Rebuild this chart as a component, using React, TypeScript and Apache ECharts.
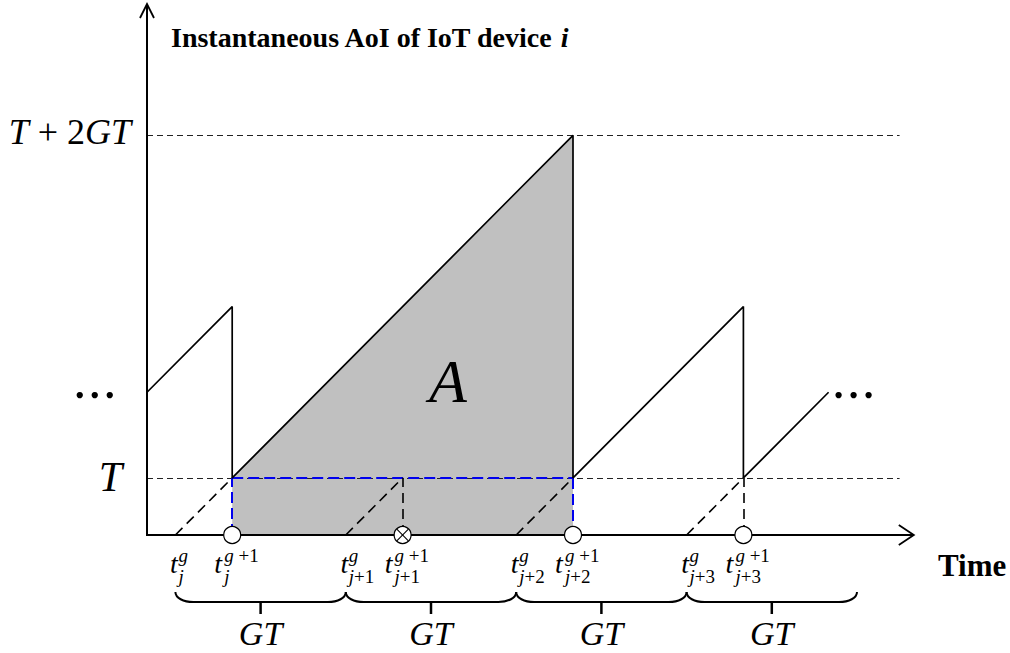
import React, { useEffect, useRef } from "react";
import * as echarts from "echarts";

// ---- data (time axis and AoI in units of T; G = 3) ----
const xAxisEnd = 13.5;
const yAxisEnd = 9.3;
const refLineEnd = 13.25;
const levelValues = [1, 7]; // T, T + 2GT
const aoiCurve = [
  [0, 2.5], [1.5, 4], [1.5, 1], [7.5, 7], [7.5, 1], [10.5, 4], [10.5, 1], [12, 2.5],
];
const areaTop = [[1.5, 1], [7.5, 7]]; // area A (down to 0)
const gTimes = [0.5, 3.5, 6.5, 9.5]; // t_j^g
const g1Times = [1.5, 4.5, 7.5, 10.5]; // t_j^{g+1}
const subLabels = ["j", "j+1", "j+2", "j+3"];
const dashedRises = [
  [[0.5, 0], [1.5, 1]],
  [[3.5, 0], [4.5, 1]],
  [[6.5, 0], [7.5, 1]],
  [[9.5, 0], [10.5, 1]],
];
const blueDashed = [
  [[1.5, 0], [1.5, 1]],
  [[1.5, 1], [7.5, 1]],
  [[7.5, 1], [7.5, 0]],
];
const blackDropDashed = [
  [[4.5, 0], [4.5, 1]],
  [[10.5, 0], [10.5, 1]],
];
const successMarks = [[1.5, 0], [7.5, 0], [10.5, 0]];
const failedMarks = [[4.5, 0]];
const braces = [[0.5, 3.5], [3.5, 6.5], [6.5, 9.5], [9.5, 12.5]];
const braceLabel = "GT";
const dotsCenters = [[-0.92, 2.45], [12.44, 2.45]];
const areaLabelPos = [[5.3, 2.7]];
const areaLabel = "A";

const FONT = "'Liberation Serif', 'Times New Roman', Times, serif";

function subRich(s: string) {
  const parts = s.split("+");
  return `{i|${parts[0]}}` + (parts.length > 1 ? `{r|+${parts.slice(1).join("+")}}` : "");
}

export default function App() {
  const ref = useRef<HTMLDivElement>(null);
  useEffect(() => {
    const chart = echarts.init(ref.current!, null, { renderer: "svg" });
    const richSmall = {
      i: { fontFamily: FONT, fontStyle: "italic", fontSize: 19, fill: "#000", lineHeight: 16 },
      r: { fontFamily: FONT, fontSize: 19, fill: "#000", lineHeight: 16 },
    };
    const tickLabel = (isG1: boolean) => (params: any, api: any) => {
      const p = api.coord([api.value(0), 0]);
      const sub = subLabels[params.dataIndex];
      const tX = isG1 ? p[0] - 14 : p[0] - 1.5;
      const supX = isG1 ? p[0] - 8 : p[0] + 3;
      const subX = isG1 ? p[0] - 8 : p[0] + 3;
      return {
        type: "group",
        children: [
          {
            type: "text", x: tX, y: p[1] + 28,
            style: { text: "t", font: `italic 28px ${FONT}`, fill: "#000", align: "center", verticalAlign: "middle", lineHeight: 22 },
          },
          {
            type: "text", x: supX, y: p[1] + 20,
            style: { text: isG1 ? "{i|g}{r| +1}" : "{i|g}", rich: richSmall, align: "left", verticalAlign: "middle" },
          },
          {
            type: "text", x: subX, y: p[1] + 41,
            style: { text: subRich(sub), rich: richSmall, align: "left", verticalAlign: "middle" },
          },
        ],
      };
    };

    const option: any = {
      animation: false,
      backgroundColor: "#fff",
      grid: { left: 147, top: 4, width: 766.8, height: 531, containLabel: false },
      xAxis: { type: "value", min: 0, max: xAxisEnd, show: false },
      yAxis: { type: "value", min: 0, max: yAxisEnd, show: false },
      graphic: [
        {
          type: "text", x: 171, y: 37.5,
          style: {
            text: "{b|Instantaneous AoI of IoT device }{bi|i}",
            rich: {
              b: { fontFamily: FONT, fontWeight: "bold", fontSize: 28, fill: "#000" },
              bi: { fontFamily: FONT, fontWeight: "bold", fontStyle: "italic", fontSize: 28, fill: "#000" },
            },
            align: "left", verticalAlign: "middle",
          },
        },
        {
          type: "text", x: 938, y: 565,
          style: { text: "Time", font: `bold 31px ${FONT}`, fill: "#000", align: "left", verticalAlign: "middle" },
        },
      ],
      series: [
        {
          type: "line", data: areaTop, symbol: "none", z: 1, silent: true,
          lineStyle: { opacity: 0, width: 0 },
          areaStyle: { color: "#c0c0c0", opacity: 1 },
        },
        {
          type: "lines", coordinateSystem: "cartesian2d", z: 2, silent: true,
          data: levelValues.map((v) => ({ coords: [[0, v], [refLineEnd, v]] })),
          lineStyle: { color: "#222", width: 1, type: [6, 4], opacity: 1 },
        },
        {
          type: "lines", coordinateSystem: "cartesian2d", z: 3, silent: true,
          data: blueDashed.map((c) => ({ coords: c })),
          lineStyle: { color: "#0000ee", width: 2, type: [11, 5], opacity: 1 },
        },
        {
          type: "lines", coordinateSystem: "cartesian2d", z: 3, silent: true,
          data: dashedRises.concat(blackDropDashed).map((c) => ({ coords: c })),
          lineStyle: { color: "#000", width: 1.6, type: [10, 6], opacity: 1 },
        },
        {
          type: "line", data: aoiCurve, symbol: "none", z: 4, silent: true,
          lineStyle: { color: "#000", width: 1.7 },
        },
        // axes with open arrowheads
        {
          type: "custom", z: 5, silent: true, data: [[0, 0]],
          renderItem: (params: any, api: any) => {
            const o = api.coord([0, 0]);
            const xe = api.coord([xAxisEnd, 0]);
            const ye = api.coord([0, yAxisEnd]);
            const st = { stroke: "#000", lineWidth: 2.2, fill: "none" };
            return {
              type: "group",
              children: [
                { type: "line", shape: { x1: o[0], y1: o[1], x2: xe[0], y2: xe[1] }, style: st },
                { type: "line", shape: { x1: o[0], y1: o[1] + 1, x2: ye[0], y2: ye[1] }, style: { ...st, lineWidth: 2 } },
                { type: "polyline", shape: { points: [[xe[0] - 15, xe[1] - 10], [xe[0], xe[1]], [xe[0] - 15, xe[1] + 10]] }, style: { ...st, lineWidth: 1.8 } },
                { type: "polyline", shape: { points: [[ye[0] - 7, ye[1] + 14], [ye[0], ye[1]], [ye[0] + 7, ye[1] + 14]] }, style: { ...st, lineWidth: 1.8 } },
              ],
            };
          },
        },
        {
          type: "scatter", data: successMarks, z: 6, silent: true, symbol: "circle", symbolSize: 17,
          itemStyle: { color: "#fff", borderColor: "#000", borderWidth: 1.2, opacity: 1 },
        },
        {
          type: "custom", z: 6, silent: true, data: failedMarks,
          renderItem: (params: any, api: any) => {
            const p = api.coord([api.value(0), api.value(1)]);
            const r = 8.5;
            const d = r * 0.68;
            const st = { stroke: "#000", lineWidth: 1.1 };
            return {
              type: "group",
              children: [
                { type: "circle", shape: { cx: p[0], cy: p[1], r }, style: { fill: "#fff", stroke: "#000", lineWidth: 1.2 } },
                { type: "line", shape: { x1: p[0] - d, y1: p[1] - d, x2: p[0] + d, y2: p[1] + d }, style: st },
                { type: "line", shape: { x1: p[0] - d, y1: p[1] + d, x2: p[0] + d, y2: p[1] - d }, style: st },
              ],
            };
          },
        },
        { type: "custom", z: 7, silent: true, data: gTimes.map((x) => [x, 0]), renderItem: tickLabel(false) },
        { type: "custom", z: 7, silent: true, data: g1Times.map((x) => [x, 0]), renderItem: tickLabel(true) },
        // braces with GT labels
        {
          type: "custom", z: 7, silent: true, data: braces,
          renderItem: (params: any, api: any) => {
            const a = api.coord([api.value(0), 0]);
            const b = api.coord([api.value(1), 0]);
            const yTop = a[1] + 57;
            const yLine = a[1] + 67;
            const x0 = a[0];
            const x1 = b[0];
            const xc = (x0 + x1) / 2;
            const pathData =
              `M ${x0} ${yTop} C ${x0} ${yTop + 6} ${x0 + 8} ${yLine} ${x0 + 18} ${yLine} ` +
              `L ${x1 - 18} ${yLine} C ${x1 - 8} ${yLine} ${x1} ${yTop + 6} ${x1} ${yTop}`;
            return {
              type: "group",
              children: [
                { type: "path", shape: { pathData }, style: { stroke: "#000", lineWidth: 2, fill: "none" } },
                { type: "line", shape: { x1: xc, y1: yLine, x2: xc, y2: yLine + 12 }, style: { stroke: "#000", lineWidth: 2.5 } },
                {
                  type: "text", x: xc, y: a[1] + 98,
                  style: { text: braceLabel, font: `italic 34px ${FONT}`, fill: "#000", align: "center", verticalAlign: "middle", lineHeight: 26 },
                },
              ],
            };
          },
        },
        // level labels on the y axis
        {
          type: "custom", z: 7, silent: true, data: levelValues.map((v) => [0, v]),
          renderItem: (params: any, api: any) => {
            const p = api.coord([0, api.value(1)]);
            if (params.dataIndex === 0) {
              return {
                type: "text", x: p[0] - 25, y: p[1] - 1,
                style: { text: "T", font: `italic 42px ${FONT}`, fill: "#000", align: "right", verticalAlign: "middle" },
              };
            }
            return {
              type: "text", x: p[0] - 16, y: p[1] - 3,
              style: {
                text: "{i|T}{r| + 2}{i|GT}",
                rich: {
                  i: { fontFamily: FONT, fontStyle: "italic", fontSize: 36, fill: "#000" },
                  r: { fontFamily: FONT, fontSize: 36, fill: "#000" },
                },
                align: "right", verticalAlign: "middle",
              },
            };
          },
        },
        // continuation dots
        {
          type: "custom", z: 7, silent: true, data: dotsCenters,
          renderItem: (params: any, api: any) => {
            const p = api.coord([api.value(0), api.value(1)]);
            return {
              type: "group",
              children: [-15, 0, 15].map((dx) => ({
                type: "circle", shape: { cx: p[0] + dx, cy: p[1], r: 3.2 }, style: { fill: "#000" },
              })),
            };
          },
        },
        // area label A
        {
          type: "custom", z: 7, silent: true, data: areaLabelPos,
          renderItem: (params: any, api: any) => {
            const p = api.coord([api.value(0), api.value(1)]);
            return {
              type: "text", x: p[0], y: p[1],
              style: { text: areaLabel, font: `italic 62px ${FONT}`, fill: "#000", align: "center", verticalAlign: "middle" },
            };
          },
        },
      ],
    };
    chart.setOption(option);
    return () => chart.dispose();
  }, []);
  return (
    <div
      ref={ref}
      style={{ position: "absolute", left: 0, top: 0, width: 1010, height: 653, background: "#fff" }}
    />
  );
}
